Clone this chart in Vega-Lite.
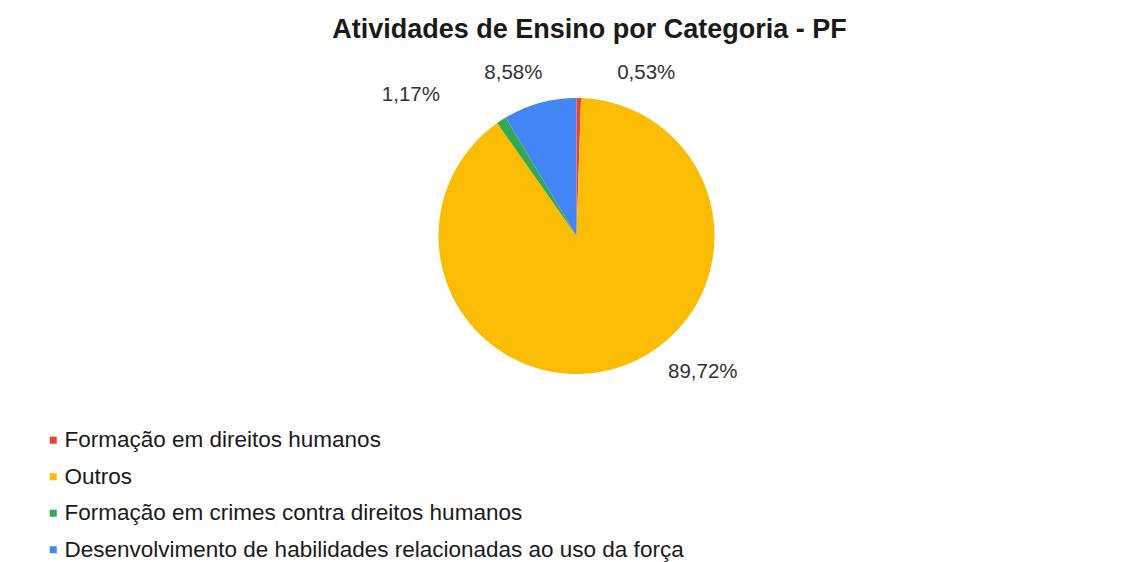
{
  "$schema": "https://vega.github.io/schema/vega-lite/v6.json",
  "autosize": {"type": "none"},
  "width": 1113,
  "height": 360,
  "padding": {"left": 20, "top": 56, "right": 0, "bottom": 146},
  "background": "white",
  "config": {
    "locale": {"number": {"decimal": ",", "thousands": ".", "grouping": [3], "currency": ["R$", ""]}},
    "view": {"stroke": null},
    "text": {"font": "Liberation Sans", "fontSize": 20.5, "color": "#333333"}
  },
  "title": {
    "text": "Atividades de Ensino por Categoria - PF",
    "font": "Liberation Sans",
    "fontSize": 27,
    "fontWeight": "bold",
    "color": "#1a1a1a",
    "dx": 13,
    "offset": 12
  },
  "data": {
    "values": [
      {"categoria": "Formação em direitos humanos", "participacao": 0.0053, "ordem": 1},
      {"categoria": "Outros", "participacao": 0.8972, "ordem": 2},
      {"categoria": "Formação em crimes contra direitos humanos", "participacao": 0.0117, "ordem": 3},
      {"categoria": "Desenvolvimento de habilidades relacionadas ao uso da força", "participacao": 0.0858, "ordem": 4}
    ]
  },
  "encoding": {
    "theta": {"field": "participacao", "type": "quantitative", "stack": true},
    "order": {"field": "ordem", "type": "quantitative"}
  },
  "layer": [
    {
      "mark": {"type": "arc", "outerRadius": 138},
      "encoding": {
        "color": {
          "field": "categoria",
          "type": "nominal",
          "scale": {
            "domain": ["Formação em direitos humanos", "Outros", "Formação em crimes contra direitos humanos", "Desenvolvimento de habilidades relacionadas ao uso da força"],
            "range": ["#EA4335", "#FBBC04", "#34A853", "#4285F4"]
          },
          "legend": {
            "title": null,
            "orient": "none",
            "legendX": 22,
            "legendY": 373,
            "symbolType": "square",
            "symbolSize": 49,
            "symbolStrokeWidth": 0,
            "labelFont": "Liberation Sans",
            "labelFontSize": 22.5,
            "labelColor": "#1a1a1a",
            "labelLimit": 900,
            "labelOffset": 0,
            "rowPadding": 13.5
          }
        }
      }
    },
    {
      "mark": {"type": "text", "radius": 163, "align": "left", "baseline": "middle", "dx": 38},
      "encoding": {"text": {"condition": {"test": "datum.ordem == 1", "field": "participacao", "type": "quantitative", "format": ".2%"}, "value": ""}}
    },
    {
      "mark": {"type": "text", "radius": 169, "align": "right", "baseline": "middle", "dx": 11},
      "encoding": {"text": {"condition": {"test": "datum.ordem == 4", "field": "participacao", "type": "quantitative", "format": ".2%"}, "value": ""}}
    },
    {
      "mark": {"type": "text", "radius": 168, "align": "right", "baseline": "middle", "dx": -45},
      "encoding": {"text": {"condition": {"test": "datum.ordem == 3", "field": "participacao", "type": "quantitative", "format": ".2%"}, "value": ""}}
    },
    {
      "mark": {"type": "text", "radius": 142, "align": "left", "baseline": "middle", "dx": 51},
      "encoding": {"text": {"condition": {"test": "datum.ordem == 2", "field": "participacao", "type": "quantitative", "format": ".2%"}, "value": ""}}
    }
  ]
}
